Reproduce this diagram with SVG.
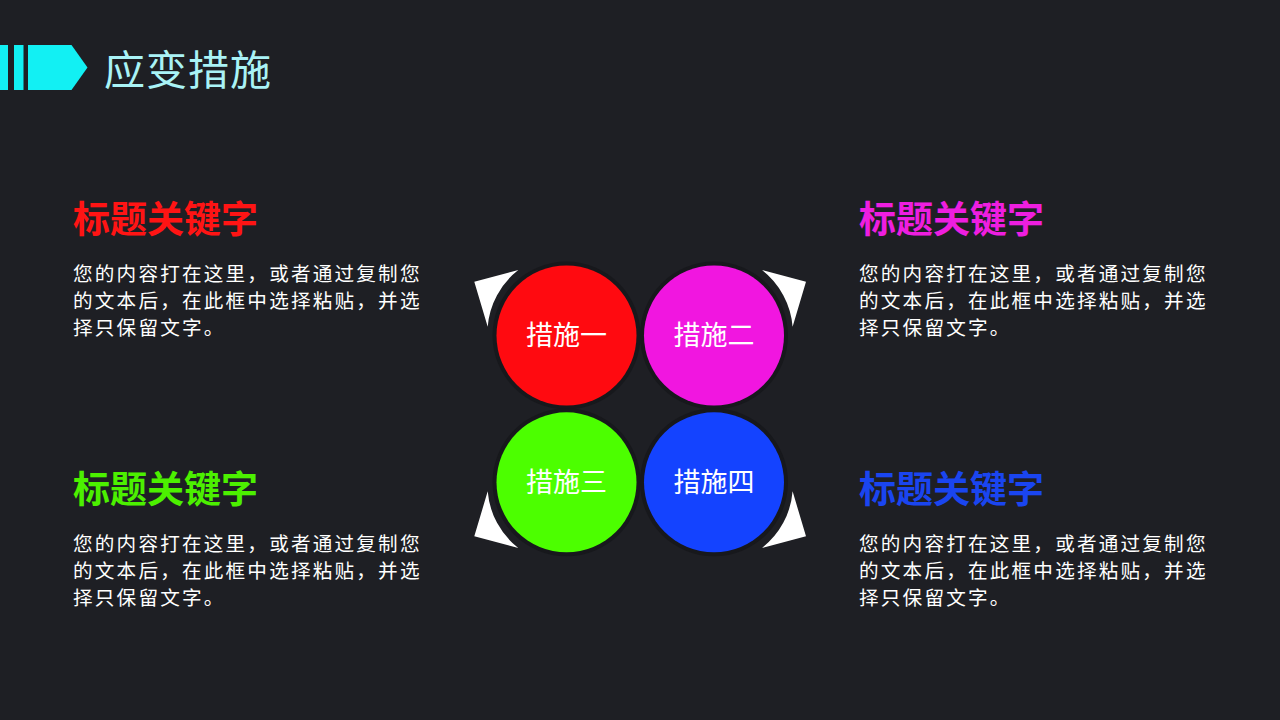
<svg xmlns="http://www.w3.org/2000/svg" width="1280" height="720" viewBox="0 0 1280 720">
<defs>
<style>
.title{font-family:"Noto Sans CJK SC","Noto Sans",sans-serif;font-size:41px;letter-spacing:1px;fill:#a9f3f6}
.head{font-family:"Noto Sans CJK SC","Noto Sans",sans-serif;font-size:37px;font-weight:bold}
.body{font-family:"Noto Sans CJK SC","Noto Sans",sans-serif;font-size:19.6px;letter-spacing:2.2px;fill:#ffffff}
.lbl{font-family:"Noto Sans CJK SC","Noto Sans",sans-serif;font-size:27px;fill:#ffffff;text-anchor:middle}
.ring{fill:#17181c}
.arrow{fill:#ffffff}
</style>
</defs>
<rect x="0" y="0" width="1280" height="720" fill="#1e1f24"/>
<g id="header">
<rect x="0" y="45" width="8" height="45" fill="#12f0f3"/>
<rect x="14" y="45" width="9.5" height="45" fill="#12f0f3"/>
<polygon points="28,45 71.5,45 87.5,67.5 71.5,90 28,90" fill="#12f0f3"/>
<text class="title" x="104" y="85">应变措施</text>
</g>
<g id="connectors">
<path class="arrow" d="M518.3,270 L474.3,281.7 L487.7,326.7 A80 80 0 0 1 518.3,270 Z"/>
<path class="arrow" d="M762,270 L806,281.7 L792.6,326.7 A80 80 0 0 0 762,270 Z"/>
<path class="arrow" d="M518.3,548 L474.3,536.3 L487.7,491.3 A80 80 0 0 0 518.3,548 Z"/>
<path class="arrow" d="M762,548 L806,536.3 L792.6,491.3 A80 80 0 0 1 762,548 Z"/>
</g>
<g id="node1">
<circle class="ring" cx="566.5" cy="335.5" r="74"/>
<circle cx="566.5" cy="335.5" r="70" fill="#ff0a10"/>
<text class="lbl" x="566.5" y="345">措施一</text>
</g>
<g id="node2">
<circle class="ring" cx="714" cy="335.5" r="74"/>
<circle cx="714" cy="335.5" r="70" fill="#f116e0"/>
<text class="lbl" x="714" y="345">措施二</text>
</g>
<g id="node3">
<circle class="ring" cx="566.5" cy="482.3" r="74"/>
<circle cx="566.5" cy="482.3" r="70" fill="#4cff00"/>
<text class="lbl" x="566.5" y="492">措施三</text>
</g>
<g id="node4">
<circle class="ring" cx="714" cy="482.3" r="74"/>
<circle cx="714" cy="482.3" r="70" fill="#1443ff"/>
<text class="lbl" x="714" y="492">措施四</text>
</g>
<g id="text1">
<text class="head" x="73" y="233" fill="#ff1414">标题关键字</text>
<text class="body" x="73" y="281">您的内容打在这里，或者通过复制您</text>
<text class="body" x="73" y="308">的文本后，在此框中选择粘贴，并选</text>
<text class="body" x="73" y="335">择只保留文字。</text>
</g>
<g id="text2">
<text class="head" x="859" y="233" fill="#ee1ee0">标题关键字</text>
<text class="body" x="859" y="281">您的内容打在这里，或者通过复制您</text>
<text class="body" x="859" y="308">的文本后，在此框中选择粘贴，并选</text>
<text class="body" x="859" y="335">择只保留文字。</text>
</g>
<g id="text3">
<text class="head" x="73" y="503" fill="#4cf000">标题关键字</text>
<text class="body" x="73" y="551">您的内容打在这里，或者通过复制您</text>
<text class="body" x="73" y="578">的文本后，在此框中选择粘贴，并选</text>
<text class="body" x="73" y="605">择只保留文字。</text>
</g>
<g id="text4">
<text class="head" x="859" y="503" fill="#1a45f0">标题关键字</text>
<text class="body" x="859" y="551">您的内容打在这里，或者通过复制您</text>
<text class="body" x="859" y="578">的文本后，在此框中选择粘贴，并选</text>
<text class="body" x="859" y="605">择只保留文字。</text>
</g>
</svg>
